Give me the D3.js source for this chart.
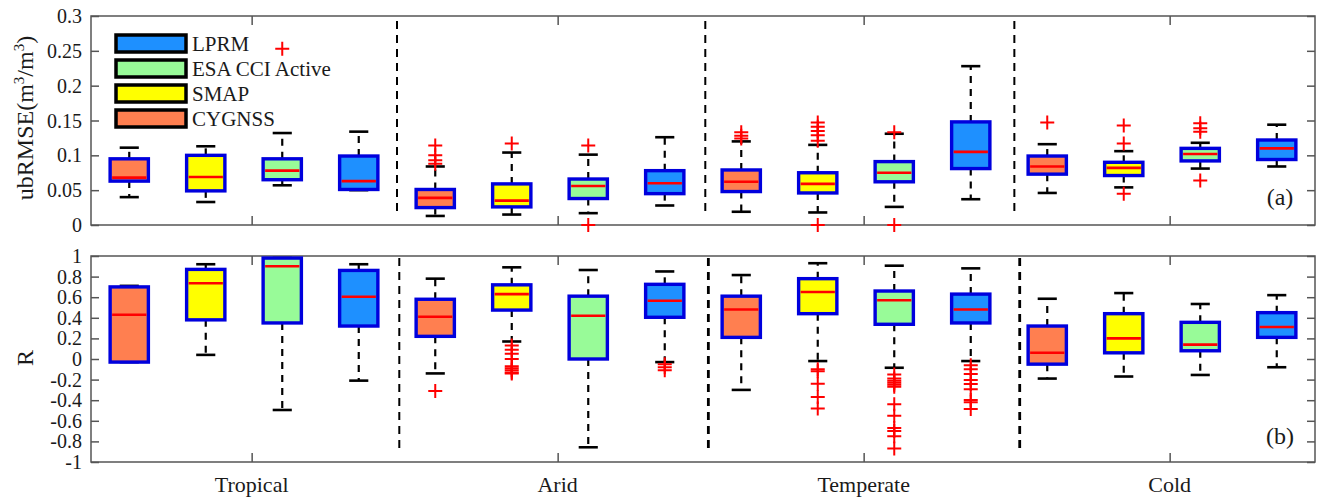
<!DOCTYPE html>
<html><head><meta charset="utf-8">
<script src="https://cdn.jsdelivr.net/npm/d3@7"></script>
<style>
body{margin:0;background:#fff}
svg{display:block}
svg text{font-family:'Liberation Serif','Times New Roman','DejaVu Serif',serif;fill:#1a1a1a}
</style>
</head><body>
<svg id="chart" width="1317" height="499" font-family="Liberation Serif, Times New Roman, DejaVu Serif, serif"></svg>
<script>
// ---------------- DATA ----------------
const categories = ["Tropical", "Arid", "Temperate", "Cold"];
const categoryTickPos = [2.6, 6.6, 10.6, 14.6];
const series = ["CYGNSS", "SMAP", "ESA CCI Active", "LPRM"];
const legendOrder = ["LPRM", "ESA CCI Active", "SMAP", "CYGNSS"];

// box stats per box: [lowerWhisker, q1, median, q3, upperWhisker]; order = category x series
const ubrmseStats = [
  [0.040, 0.063, 0.068, 0.095, 0.111], [0.033, 0.049, 0.069, 0.100, 0.113], [0.057, 0.065, 0.078, 0.095, 0.132], [0.050, 0.051, 0.063, 0.099, 0.134],
  [0.013, 0.025, 0.039, 0.051, 0.084], [0.015, 0.026, 0.035, 0.059, 0.104], [0.017, 0.038, 0.056, 0.066, 0.101], [0.028, 0.045, 0.060, 0.078, 0.126],
  [0.019, 0.048, 0.062, 0.079, 0.120], [0.018, 0.046, 0.059, 0.075, 0.115], [0.026, 0.062, 0.075, 0.091, 0.131], [0.037, 0.081, 0.105, 0.148, 0.228],
  [0.046, 0.073, 0.084, 0.099, 0.116], [0.054, 0.071, 0.082, 0.090, 0.106], [0.081, 0.092, 0.102, 0.110, 0.118], [0.084, 0.094, 0.110, 0.122, 0.144]
];
const ubrmseOutliers = [
  [], [], [0.253], [],
  [0.114, 0.100, 0.093, 0.088], [0.117], [0.114, 0.0], [],
  [0.133, 0.128, 0.124], [0.147, 0.141, 0.135, 0.129, 0.121, 0.0], [0.133, 0.0], [],
  [0.147], [0.143, 0.117, 0.045], [0.146, 0.139, 0.134, 0.064], []
];
const rStats = [
  [-0.03, -0.03, 0.43, 0.70, 0.71], [0.04, 0.38, 0.735, 0.87, 0.92], [-0.495, 0.35, 0.90, 0.98, 0.98], [-0.21, 0.32, 0.605, 0.86, 0.92],
  [-0.14, 0.22, 0.41, 0.58, 0.78], [0.17, 0.475, 0.63, 0.72, 0.89], [-0.857, 0.0, 0.42, 0.61, 0.864], [-0.03, 0.405, 0.566, 0.725, 0.85],
  [-0.30, 0.21, 0.48, 0.61, 0.815], [-0.02, 0.44, 0.65, 0.78, 0.93], [-0.085, 0.337, 0.57, 0.66, 0.906], [-0.02, 0.35, 0.48, 0.63, 0.88],
  [-0.19, -0.05, 0.06, 0.32, 0.585], [-0.17, 0.06, 0.20, 0.44, 0.64], [-0.155, 0.08, 0.14, 0.356, 0.534], [-0.08, 0.21, 0.31, 0.45, 0.62]
];
const rOutliers = [
  [], [], [], [],
  [-0.31], [0.13, 0.09, 0.05, 0.0, -0.07, -0.09, -0.11, -0.13, -0.14], [], [-0.05, -0.08, -0.11],
  [], [-0.10, -0.12, -0.24, -0.37, -0.48], [-0.15, -0.19, -0.21, -0.23, -0.25, -0.27, -0.44, -0.55, -0.67, -0.70, -0.75, -0.87], [-0.06, -0.10, -0.146, -0.204, -0.243, -0.294, -0.398, -0.42, -0.485],
  [], [], [], []
];
const ubrmseTicks = [0, 0.05, 0.1, 0.15, 0.2, 0.25, 0.3];
const ubrmseTickLabels = ["0", "0.05", "0.1", "0.15", "0.2", "0.25", "0.3"];
const rTicks = [-1, -0.8, -0.6, -0.4, -0.2, 0, 0.2, 0.4, 0.6, 0.8, 1];
const rTickLabels = ["-1", "-0.8", "-0.6", "-0.4", "-0.2", "0", "0.2", "0.4", "0.6", "0.8", "1"];
const separatorsTop = [4.5, 8.53, 12.57];
const separatorsBottom = [4.53, 8.57, 12.64];

// ---------------- STYLE ----------------
const fillColors = {"CYGNSS": "#ff7f50", "SMAP": "#ffff00", "ESA CCI Active": "#98fb98", "LPRM": "#1e90ff"};
const FONT = "'Liberation Serif','Times New Roman','DejaVu Serif',serif";

const svg = d3.select("#chart");
const x = d3.scaleLinear().domain([0.5, 16.5]).range([91, 1315]);
const boxW = 0.5, capW = 0.25;

function drawPanel(opt) {
  const y = d3.scaleLinear().domain(opt.domain).range([opt.bottom, opt.top]);
  const g = svg.append("g");

  g.selectAll("line.sep").data(opt.separators).join("line")
    .attr("x1", d => x(d)).attr("x2", d => x(d))
    .attr("y1", opt.sepY[0]).attr("y2", opt.sepY[1])
    .attr("stroke", "#000").attr("stroke-width", (d, i) => opt.sepW[i])
    .attr("stroke-dasharray", "8,6");

  g.append("rect").attr("x", x(0.5)).attr("y", opt.top)
    .attr("width", x(16.5) - x(0.5)).attr("height", opt.bottom - opt.top)
    .attr("fill", "none").attr("stroke", "#555").attr("stroke-width", 1.5);

  const yl = d3.axisRight(y).tickValues(opt.ticks).tickSize(8).tickFormat("");
  const ylg = g.append("g").attr("transform", `translate(${x(0.5)},0)`).call(yl);
  const yr = d3.axisLeft(y).tickValues(opt.ticks).tickSize(8).tickFormat("");
  const yrg = g.append("g").attr("transform", `translate(${x(16.5)},0)`).call(yr);
  [ylg, yrg].forEach(a => { a.select(".domain").remove(); a.selectAll("line").attr("stroke", "#555").attr("stroke-width", 1.5); });

  g.selectAll("text.yt").data(opt.ticks).join("text")
    .attr("x", 82).attr("y", d => y(d)).attr("dy", "0.35em")
    .style("font-family", FONT)
    .attr("text-anchor", "end").attr("font-size", 20).text((d, i) => opt.tickLabels[i]);

  const xb = d3.axisTop(x).tickValues(categoryTickPos).tickSize(9).tickFormat("");
  const xbg = g.append("g").attr("transform", `translate(0,${opt.bottom})`).call(xb);
  const xt = d3.axisBottom(x).tickValues(categoryTickPos).tickSize(9).tickFormat("");
  const xtg = g.append("g").attr("transform", `translate(0,${opt.top})`).call(xt);
  [xbg, xtg].forEach(a => { a.select(".domain").remove(); a.selectAll("line").attr("stroke", "#555").attr("stroke-width", 1.5); });

  const boxes = opt.stats.map((s, i) => ({pos: i + 1, s, out: opt.outliers[i], ser: series[i % 4]}));
  const bg = g.selectAll("g.box").data(boxes).join("g");
  bg.append("line").attr("x1", d => x(d.pos)).attr("x2", d => x(d.pos))
    .attr("y1", d => y(d.s[3])).attr("y2", d => y(d.s[4]))
    .attr("stroke", "#000").attr("stroke-width", 2.2).attr("stroke-dasharray", "7,6");
  bg.append("line").attr("x1", d => x(d.pos)).attr("x2", d => x(d.pos))
    .attr("y1", d => y(d.s[1])).attr("y2", d => y(d.s[0]))
    .attr("stroke", "#000").attr("stroke-width", 2.2).attr("stroke-dasharray", "7,6");
  [0, 4].forEach(k => {
    bg.append("line").attr("x1", d => x(d.pos - capW / 2)).attr("x2", d => x(d.pos + capW / 2))
      .attr("y1", d => y(d.s[k])).attr("y2", d => y(d.s[k]))
      .attr("stroke", "#000").attr("stroke-width", 2.6);
  });
  bg.append("rect").attr("x", d => x(d.pos - boxW / 2)).attr("width", x(boxW) - x(0))
    .attr("y", d => y(d.s[3])).attr("height", d => Math.max(1, y(d.s[1]) - y(d.s[3])))
    .attr("fill", d => fillColors[d.ser]).attr("stroke", "#0000dd").attr("stroke-width", 3.4);
  bg.append("line").attr("x1", d => x(d.pos - boxW / 2) + 2).attr("x2", d => x(d.pos + boxW / 2) - 2)
    .attr("y1", d => y(d.s[2])).attr("y2", d => y(d.s[2]))
    .attr("stroke", "#ff0000").attr("stroke-width", 2.6);
  bg.selectAll("path.out").data(d => d.out.map(v => ({pos: d.pos, v}))).join("path")
    .attr("d", d => { const cx = x(d.pos), cy = y(d.v), r = 7; return `M${cx - r},${cy}H${cx + r}M${cx},${cy - r}V${cy + r}`; })
    .attr("stroke", "#ff0000").attr("stroke-width", 2).attr("fill", "none");

  g.append("text").attr("x", 1280).attr("y", opt.labelY).attr("text-anchor", "middle")
    .style("font-family", FONT).attr("font-size", 24).text(opt.panelLabel);

  g.append("text").attr("transform", `translate(33,${opt.titleY}) rotate(-90)`)
    .style("font-family", FONT)
    .attr("text-anchor", "middle").attr("font-size", 24).html(opt.title);
  return y;
}

drawPanel({
  domain: [0, 0.3], top: 16, bottom: 225, ticks: ubrmseTicks, tickLabels: ubrmseTickLabels,
  stats: ubrmseStats, outliers: ubrmseOutliers, separators: separatorsTop, sepY: [21, 216], sepW: [2, 2, 2],
  panelLabel: "(a)", labelY: 205, titleY: 118,
  title: 'ubRMSE(m<tspan dy="-9" font-size="15">3</tspan><tspan dy="9">/m</tspan><tspan dy="-9" font-size="15">3</tspan><tspan dy="9">)</tspan>'
});
drawPanel({
  domain: [-1, 1], top: 256, bottom: 462, ticks: rTicks, tickLabels: rTickLabels,
  stats: rStats, outliers: rOutliers, separators: separatorsBottom, sepY: [258, 453], sepW: [2, 2.8, 2.8],
  panelLabel: "(b)", labelY: 444, titleY: 358, title: "R"
});

svg.selectAll("text.cat").data(categories).join("text")
  .attr("x", (d, i) => x(categoryTickPos[i])).attr("y", 492)
  .style("font-family", FONT)
  .attr("text-anchor", "middle").attr("font-size", 22).text(d => d);

const lg = svg.append("g");
legendOrder.forEach((name, i) => {
  lg.append("rect").attr("x", 116).attr("y", 35 + i * 25).attr("width", 70).attr("height", 17)
    .attr("fill", fillColors[name]).attr("stroke", "#000").attr("stroke-width", 3.5);
  lg.append("text").attr("x", 192).attr("y", 35 + i * 25 + 8.5).attr("dy", "0.35em")
    .style("font-family", FONT).attr("font-size", 21).text(name);
});
</script>
</body></html>
